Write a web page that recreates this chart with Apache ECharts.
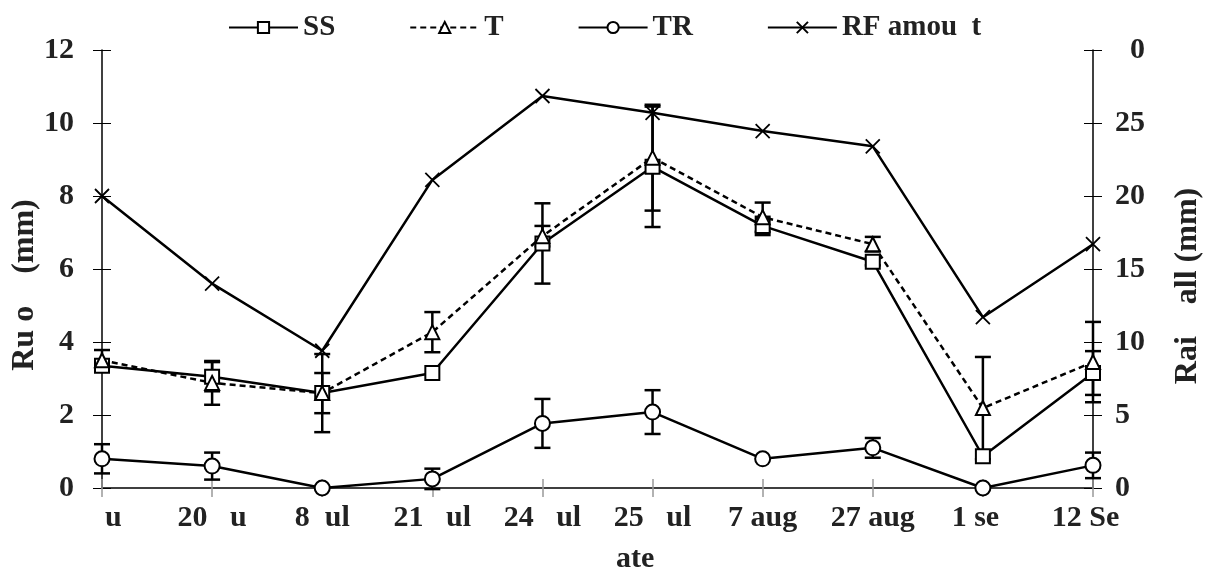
<!DOCTYPE html>
<html><head><meta charset="utf-8">
<script src="https://cdn.jsdelivr.net/npm/echarts@6/dist/echarts.min.js"></script>
<style>html,body{margin:0;padding:0;background:#fff}#c{width:1208px;height:572px}</style>
</head><body><div id="c"></div>
<script>
const categories = ['   u', '20   u', '8  ul', '21   ul', '24   ul', '25   ul', '7 aug', '27 aug', '1 se  ', '12 Se  '];
const ssValues = [3.35, 3.05, 2.6, 3.15, 6.7, 8.8, 7.18, 6.2, 0.87, 3.15];
const tValues  = [3.5, 2.88, 2.6, 4.27, 6.9, 9.05, 7.42, 6.68, 2.19, 3.45];
const trValues = [0.8, 0.6, 0.0, 0.25, 1.77, 2.08, 0.8, 1.1, 0.0, 0.62];
const rfValues = [20.0, 14.0, 9.4, 21.1, 26.85, 25.7, 24.45, 23.4, 11.7, 16.7];
const ssErr = [0.15, 0.4, 0.55, 0, 1.1, 1.65, 0.25, 0.1, 0, 0.6];
const tErr  = [0.28, 0.6, 1.07, 0.55, 0.28, 1.45, 0.4, 0.2, 1.4, 1.1];
const trErr = [0.4, 0.37, 0, 0.28, 0.67, 0.6, 0, 0.27, 0, 0.35];
const leftTicks = [0, 12, 2];
const rightTicks = [0, 30, 5];
const seriesNames = ['SS', 'T', 'TR', 'RF amou  t'];
const leftTitle = 'Ru o    (mm)';
const rightTitle = 'Rai    all (mm)';
const xTitle = 'ate';

const FONT = "'Liberation Serif', 'Times New Roman', serif";
const labelStyle = {fontFamily: FONT, fontWeight: 'bold', fontSize: 30, color: '#222'};

function errData(vals, errs) {
  const out = [];
  vals.forEach((v, i) => { if (errs[i] > 0) out.push([i, v - errs[i], v + errs[i]]); });
  return out;
}
function errSeries(vals, errs) {
  return {
    type: 'custom', xAxisIndex: 0, yAxisIndex: 0, z: 1, silent: true,
    data: errData(vals, errs),
    renderItem: function (params, api) {
      const x = api.value(0);
      const lo = api.coord([x, api.value(1)]);
      const hi = api.coord([x, api.value(2)]);
      const w = 8;
      const st = {stroke: '#000', lineWidth: 2.5};
      return {type: 'group', children: [
        {type: 'line', shape: {x1: lo[0], y1: lo[1], x2: hi[0], y2: hi[1]}, style: st},
        {type: 'line', shape: {x1: lo[0]-w, y1: lo[1], x2: lo[0]+w, y2: lo[1]}, style: st},
        {type: 'line', shape: {x1: hi[0]-w, y1: hi[1], x2: hi[0]+w, y2: hi[1]}, style: st}
      ]};
    }
  };
}
const markerStyle = {color: '#fff', borderColor: '#000', borderWidth: 2};

const chart = echarts.init(document.getElementById('c'), null, {renderer: 'canvas'});
chart.setOption({
  animation: false,
  backgroundColor: '#fff',
  grid: {left: 102, right: 115, top: 50, bottom: 84, containLabel: false},
  legend: {
    top: 8, left: 223, itemGap: 74, itemWidth: 69, itemHeight: 14,
    textStyle: {fontFamily: FONT, fontWeight: 'bold', fontSize: 29, color: '#222'},
    data: seriesNames
  },
  xAxis: [
    {type: 'category', data: categories, boundaryGap: false, gridIndex: 0,
     axisLine: {lineStyle: {color: '#000', width: 1.5}},
     axisTick: {show: true, inside: false, length: 9, lineStyle: {color: '#999', width: 1.5}},
     axisLabel: Object.assign({margin: 15, interval: 0}, labelStyle),
     splitLine: {show: false}},
    {type: 'category', data: categories, boundaryGap: false, gridIndex: 0, position: 'bottom',
     axisLine: {show: false},
     axisTick: {show: true, inside: true, length: 9, lineStyle: {color: '#999', width: 1.5}},
     axisLabel: {show: false}, splitLine: {show: false}}
  ],
  yAxis: [
    {type: 'value', position: 'left', min: leftTicks[0], max: leftTicks[1], interval: leftTicks[2],
     axisLine: {show: true, lineStyle: {color: '#000', width: 1.5}},
     axisTick: {show: true, length: 9, lineStyle: {color: '#000', width: 1}},
     axisLabel: Object.assign({margin: 28}, labelStyle), splitLine: {show: false}},
    {type: 'value', position: 'right', min: rightTicks[0], max: rightTicks[1], interval: rightTicks[2],
     axisLine: {show: true, lineStyle: {color: '#000', width: 1.5}},
     axisTick: {show: true, length: 9, lineStyle: {color: '#000', width: 1}},
     axisLabel: Object.assign({margin: 22, formatter: v => v === rightTicks[1] ? '  0' : String(v)}, labelStyle),
     splitLine: {show: false}},
    {type: 'value', position: 'left', min: leftTicks[0], max: leftTicks[1], interval: leftTicks[2],
     axisLine: {show: false}, axisTick: {show: true, inside: true, length: 9, lineStyle: {color: '#000', width: 1}},
     axisLabel: {show: false}, splitLine: {show: false}},
    {type: 'value', position: 'right', min: rightTicks[0], max: rightTicks[1], interval: rightTicks[2],
     axisLine: {show: false}, axisTick: {show: true, inside: true, length: 9, lineStyle: {color: '#000', width: 1}},
     axisLabel: {show: false}, splitLine: {show: false}}
  ],
  graphic: [
    {type: 'text', x: 25, y: 285, rotation: Math.PI / 2,
     style: {text: leftTitle, fontFamily: FONT, fontWeight: 'bold', fontSize: 32, fill: '#222', align: 'center', verticalAlign: 'middle'}},
    {type: 'text', x: 1188, y: 286, rotation: Math.PI / 2,
     style: {text: rightTitle, fontFamily: FONT, fontWeight: 'bold', fontSize: 32, fill: '#222', align: 'center', verticalAlign: 'middle'}},
    {type: 'text', x: 616, y: 559,
     style: {text: xTitle, fontFamily: FONT, fontWeight: 'bold', fontSize: 30, fill: '#222', align: 'left', verticalAlign: 'middle'}}
  ],
  series: [
    errSeries(ssValues, ssErr), errSeries(tValues, tErr), errSeries(trValues, trErr),
    {name: seriesNames[0], type: 'line', data: ssValues, xAxisIndex: 0, yAxisIndex: 0, z: 3,
     symbol: 'rect', symbolSize: 14, showAllSymbol: true, itemStyle: markerStyle,
     lineStyle: {color: '#000', width: 2.5}},
    {name: seriesNames[1], type: 'line', data: tValues, xAxisIndex: 0, yAxisIndex: 0, z: 3,
     symbol: 'triangle', symbolSize: 14, itemStyle: markerStyle,
     lineStyle: {color: '#000', width: 2.5, type: [6, 4]}},
    {name: seriesNames[2], type: 'line', data: trValues, xAxisIndex: 0, yAxisIndex: 0, z: 3,
     symbol: 'circle', symbolSize: 15, itemStyle: markerStyle,
     lineStyle: {color: '#000', width: 2.5}},
    {name: seriesNames[3], type: 'line', data: rfValues, xAxisIndex: 0, yAxisIndex: 1, z: 3,
     symbol: 'path://M0,0L10,10M10,0L0,10', symbolSize: 14, itemStyle: {color: '#fff', borderColor: '#000', borderWidth: 1.8},
     lineStyle: {color: '#000', width: 2.5}}
  ]
});
</script></body></html>
